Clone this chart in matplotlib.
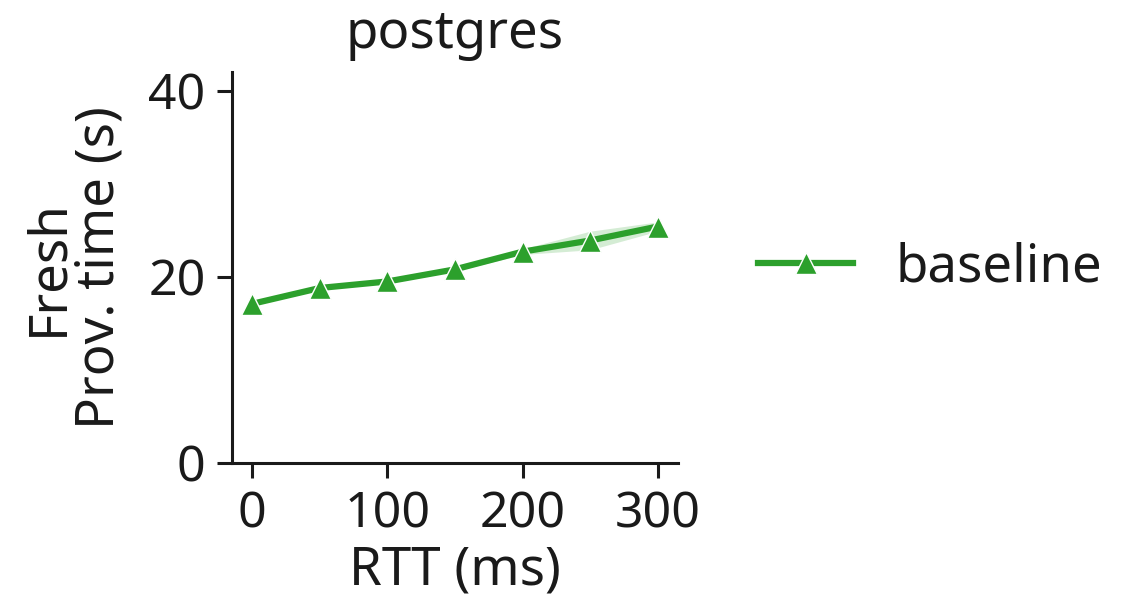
import matplotlib
matplotlib.use("Agg")
import matplotlib.pyplot as plt
import numpy as np

rtt_ms = [0, 50, 100, 150, 200, 250, 300]
baseline_mean = [17.1, 18.8, 19.5, 20.8, 22.7, 23.9, 25.4]
baseline_low = [16.9, 18.6, 19.3, 20.6, 22.4, 22.9, 24.9]
baseline_high = [17.3, 19.0, 19.7, 21.0, 23.0, 24.9, 25.9]

plt.rcParams['font.family'] = ['Noto Sans', 'DejaVu Sans']
plt.rcParams['font.size'] = 38
plt.rcParams['text.color'] = '#1a1a1a'
plt.rcParams['axes.labelcolor'] = '#1a1a1a'
plt.rcParams['xtick.color'] = '#1a1a1a'
plt.rcParams['ytick.color'] = '#1a1a1a'

fig = plt.figure(figsize=(11.27, 6.12), dpi=100)
ax = fig.add_axes([232 / 1127, 1 - 463 / 612, (678 - 232) / 1127, (463 - 72) / 612])

green = '#2ca02c'
ax.fill_between(rtt_ms, baseline_low, baseline_high, color=green, alpha=0.2, linewidth=0)
line, = ax.plot(rtt_ms, baseline_mean, color=green, linewidth=4.5, marker='^',
                markersize=16, markeredgecolor='white', markeredgewidth=1.0,
                label='baseline')

ax.set_xlim(-15, 315)
ax.set_ylim(0, 42)
ax.set_xticks([0, 100, 200, 300])
ax.set_yticks([0, 20, 40])
ax.spines['top'].set_visible(False)
ax.spines['right'].set_visible(False)
for s in ('left', 'bottom'):
    ax.spines[s].set_linewidth(2.2)
    ax.spines[s].set_color('#1a1a1a')
ax.tick_params(width=2.2, length=11, labelsize=36, pad=8)

ax.set_title('postgres', fontsize=38, pad=17)
ax.set_xlabel('RTT (ms)', fontsize=38, labelpad=4)
ax.set_ylabel('Fresh\nProv. time (s)', fontsize=38, linespacing=0.95, labelpad=16)

fig.legend(handles=[line], labels=['baseline'], loc='center left',
           bbox_to_anchor=(758 / 1127, 1 - 268 / 612), frameon=False,
           borderpad=0, borderaxespad=0,
           fontsize=38, handlelength=1.8, handletextpad=0.8)

fig.savefig('out.png', dpi=100)
